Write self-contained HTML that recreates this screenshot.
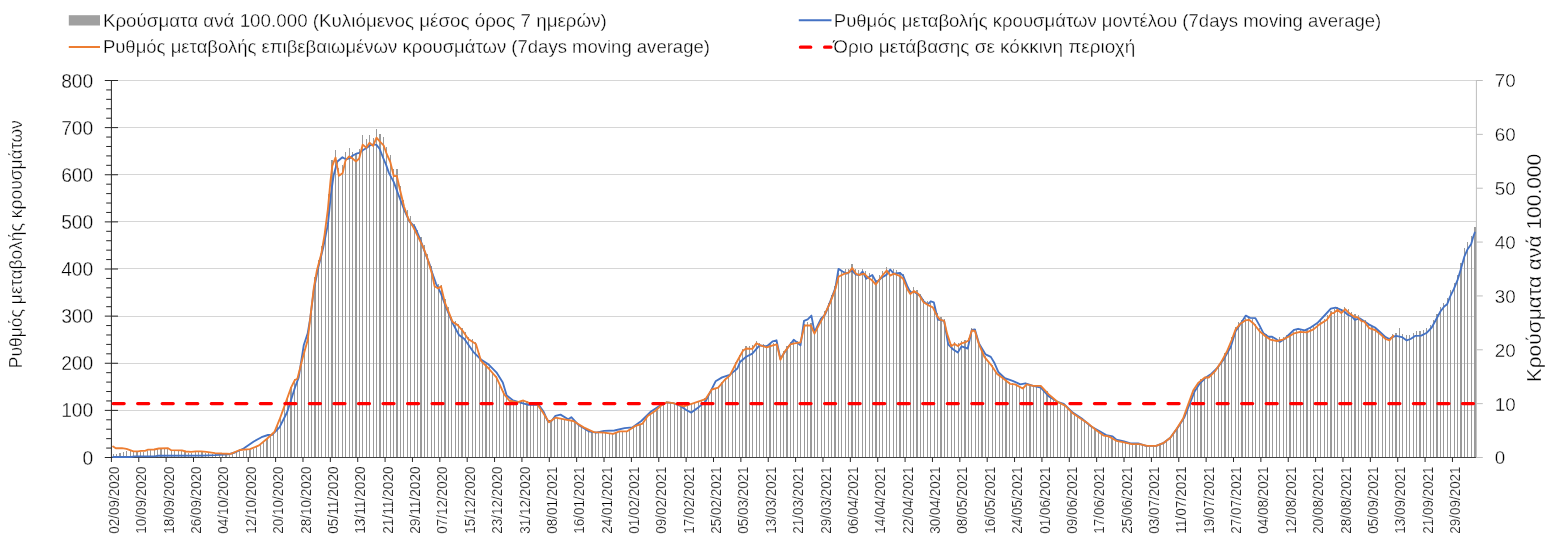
<!DOCTYPE html>
<html><head><meta charset="utf-8"><title>chart</title>
<style>html,body{margin:0;padding:0;background:#fff}svg{display:block;will-change:transform}text{font-family:"Liberation Sans",sans-serif;fill:#000;stroke:#fff;stroke-width:0.36px}.xl text{stroke-width:0.24px}</style></head><body>
<svg width="1562" height="546" viewBox="0 0 1562 546">
<rect width="1562" height="546" fill="#fff"/>
<g stroke="#d6d6d6" stroke-width="1">
<line x1="112" x2="1476.4" y1="80.5" y2="80.5"/>
<line x1="112" x2="1476.4" y1="127.5" y2="127.5"/>
<line x1="112" x2="1476.4" y1="174.5" y2="174.5"/>
<line x1="112" x2="1476.4" y1="221.5" y2="221.5"/>
<line x1="112" x2="1476.4" y1="268.5" y2="268.5"/>
<line x1="112" x2="1476.4" y1="316.5" y2="316.5"/>
<line x1="112" x2="1476.4" y1="363.5" y2="363.5"/>
<line x1="112" x2="1476.4" y1="410.5" y2="410.5"/>
</g>
<g fill="#9a9a9a" shape-rendering="crispEdges">
<rect x="113" y="454.3" width="1" height="3.2"/>
<rect x="116" y="453.55" width="1" height="3.95"/>
<rect x="119" y="452.8" width="2" height="4.7"/>
<rect x="123" y="452.05" width="1" height="5.45"/>
<rect x="126" y="451.3" width="1" height="6.2"/>
<rect x="130" y="450.55" width="1" height="6.95"/>
<rect x="133" y="452.14" width="1" height="5.36"/>
<rect x="136" y="452.11" width="2" height="5.39"/>
<rect x="140" y="451.74" width="1" height="5.76"/>
<rect x="143" y="451.6" width="1" height="5.9"/>
<rect x="147" y="450.7" width="1" height="6.8"/>
<rect x="150" y="450.34" width="1" height="7.16"/>
<rect x="154" y="450.27" width="1" height="7.23"/>
<rect x="157" y="449.48" width="1" height="8.02"/>
<rect x="160" y="449.18" width="2" height="8.32"/>
<rect x="164" y="449.06" width="1" height="8.44"/>
<rect x="167" y="448.92" width="1" height="8.58"/>
<rect x="171" y="450.96" width="1" height="6.54"/>
<rect x="174" y="451.04" width="1" height="6.46"/>
<rect x="178" y="451.12" width="1" height="6.38"/>
<rect x="181" y="451.15" width="1" height="6.35"/>
<rect x="184" y="452.1" width="2" height="5.4"/>
<rect x="188" y="452.5" width="1" height="5"/>
<rect x="191" y="452.66" width="1" height="4.84"/>
<rect x="195" y="452.21" width="1" height="5.29"/>
<rect x="198" y="452.13" width="1" height="5.37"/>
<rect x="201" y="452.22" width="2" height="5.28"/>
<rect x="205" y="452.6" width="1" height="4.9"/>
<rect x="208" y="453.09" width="1" height="4.41"/>
<rect x="212" y="453.58" width="1" height="3.92"/>
<rect x="215" y="454.01" width="1" height="3.49"/>
<rect x="219" y="454.22" width="1" height="3.28"/>
<rect x="222" y="454.4" width="1" height="3.1"/>
<rect x="225" y="454.53" width="2" height="2.97"/>
<rect x="229" y="454.65" width="1" height="2.85"/>
<rect x="232" y="453.8" width="1" height="3.7"/>
<rect x="236" y="452.28" width="1" height="5.22"/>
<rect x="239" y="450.78" width="1" height="6.72"/>
<rect x="243" y="450.51" width="1" height="6.99"/>
<rect x="246" y="450.22" width="1" height="7.28"/>
<rect x="249" y="449.96" width="2" height="7.54"/>
<rect x="253" y="448.5" width="1" height="9"/>
<rect x="256" y="446.97" width="1" height="10.53"/>
<rect x="260" y="444.98" width="1" height="12.52"/>
<rect x="263" y="442.1" width="1" height="15.4"/>
<rect x="266" y="439.1" width="2" height="18.4"/>
<rect x="270" y="435.9" width="1" height="21.6"/>
<rect x="273" y="432.63" width="1" height="24.87"/>
<rect x="277" y="424.92" width="1" height="32.58"/>
<rect x="280" y="416.1" width="1" height="41.4"/>
<rect x="284" y="406.09" width="1" height="51.41"/>
<rect x="287" y="396.63" width="1" height="60.87"/>
<rect x="290" y="386.64" width="2" height="70.86"/>
<rect x="294" y="379.48" width="1" height="78.02"/>
<rect x="297" y="375.74" width="1" height="81.76"/>
<rect x="301" y="361.64" width="1" height="95.86"/>
<rect x="304" y="348.93" width="1" height="108.57"/>
<rect x="308" y="333.72" width="1" height="123.78"/>
<rect x="311" y="303.61" width="1" height="153.89"/>
<rect x="314" y="277.11" width="2" height="180.39"/>
<rect x="318" y="259.55" width="1" height="197.95"/>
<rect x="321" y="246.03" width="1" height="211.47"/>
<rect x="325" y="223.64" width="1" height="233.86"/>
<rect x="328" y="194.12" width="1" height="263.38"/>
<rect x="331" y="160.03" width="2" height="297.47"/>
<rect x="335" y="149.66" width="1" height="307.84"/>
<rect x="338" y="167.58" width="1" height="289.92"/>
<rect x="342" y="164.86" width="1" height="292.64"/>
<rect x="345" y="152.37" width="1" height="305.13"/>
<rect x="349" y="148.01" width="1" height="309.49"/>
<rect x="352" y="151.75" width="1" height="305.75"/>
<rect x="355" y="152.96" width="2" height="304.54"/>
<rect x="359" y="149.25" width="1" height="308.25"/>
<rect x="362" y="135.11" width="1" height="322.39"/>
<rect x="366" y="138.68" width="1" height="318.82"/>
<rect x="369" y="134.97" width="1" height="322.53"/>
<rect x="373" y="137.81" width="1" height="319.69"/>
<rect x="376" y="128.61" width="1" height="328.89"/>
<rect x="379" y="134.38" width="2" height="323.12"/>
<rect x="383" y="136.8" width="1" height="320.7"/>
<rect x="386" y="146.89" width="1" height="310.61"/>
<rect x="390" y="154.85" width="1" height="302.65"/>
<rect x="393" y="169.07" width="1" height="288.43"/>
<rect x="396" y="169.09" width="2" height="288.41"/>
<rect x="400" y="185.56" width="1" height="271.94"/>
<rect x="403" y="199.93" width="1" height="257.57"/>
<rect x="407" y="209.84" width="1" height="247.66"/>
<rect x="410" y="216.22" width="1" height="241.28"/>
<rect x="414" y="223.96" width="1" height="233.54"/>
<rect x="417" y="230.4" width="1" height="227.1"/>
<rect x="420" y="237.28" width="2" height="220.22"/>
<rect x="424" y="244.53" width="1" height="212.97"/>
<rect x="427" y="254.46" width="1" height="203.04"/>
<rect x="431" y="266.38" width="1" height="191.12"/>
<rect x="434" y="282.52" width="1" height="174.98"/>
<rect x="438" y="284.49" width="1" height="173.01"/>
<rect x="441" y="284.64" width="1" height="172.86"/>
<rect x="444" y="298.61" width="2" height="158.89"/>
<rect x="448" y="307.34" width="1" height="150.16"/>
<rect x="451" y="317.05" width="1" height="140.45"/>
<rect x="455" y="320.82" width="1" height="136.68"/>
<rect x="458" y="323.53" width="1" height="133.97"/>
<rect x="461" y="327.59" width="2" height="129.91"/>
<rect x="465" y="332.31" width="1" height="125.19"/>
<rect x="468" y="336.84" width="1" height="120.66"/>
<rect x="472" y="339.48" width="1" height="118.02"/>
<rect x="475" y="342.04" width="1" height="115.46"/>
<rect x="479" y="352.77" width="1" height="104.73"/>
<rect x="482" y="360.63" width="1" height="96.87"/>
<rect x="485" y="364.01" width="2" height="93.49"/>
<rect x="489" y="367.38" width="1" height="90.12"/>
<rect x="492" y="371.64" width="1" height="85.86"/>
<rect x="496" y="375.83" width="1" height="81.67"/>
<rect x="499" y="383.28" width="1" height="74.22"/>
<rect x="503" y="390.9" width="1" height="66.6"/>
<rect x="506" y="396.56" width="1" height="60.94"/>
<rect x="509" y="399.79" width="2" height="57.71"/>
<rect x="513" y="400.67" width="1" height="56.83"/>
<rect x="516" y="401.45" width="1" height="56.05"/>
<rect x="520" y="400.55" width="1" height="56.95"/>
<rect x="523" y="399.98" width="1" height="57.52"/>
<rect x="526" y="401.41" width="2" height="56.09"/>
<rect x="530" y="402.78" width="1" height="54.72"/>
<rect x="533" y="403.14" width="1" height="54.36"/>
<rect x="537" y="403.98" width="1" height="53.52"/>
<rect x="540" y="409.07" width="1" height="48.43"/>
<rect x="544" y="414.4" width="1" height="43.1"/>
<rect x="547" y="420.02" width="1" height="37.48"/>
<rect x="550" y="420.81" width="2" height="36.69"/>
<rect x="554" y="418.37" width="1" height="39.13"/>
<rect x="557" y="418.15" width="1" height="39.35"/>
<rect x="561" y="418.79" width="1" height="38.71"/>
<rect x="564" y="419.46" width="1" height="38.04"/>
<rect x="568" y="420" width="1" height="37.5"/>
<rect x="571" y="420.72" width="1" height="36.78"/>
<rect x="574" y="421.86" width="2" height="35.64"/>
<rect x="578" y="424.12" width="1" height="33.38"/>
<rect x="581" y="426.43" width="1" height="31.07"/>
<rect x="585" y="428.32" width="1" height="29.18"/>
<rect x="588" y="429.92" width="1" height="27.58"/>
<rect x="591" y="431.54" width="2" height="25.96"/>
<rect x="595" y="432.5" width="1" height="25"/>
<rect x="598" y="432.52" width="1" height="24.98"/>
<rect x="602" y="432.67" width="1" height="24.83"/>
<rect x="605" y="433.09" width="1" height="24.41"/>
<rect x="609" y="433.55" width="1" height="23.95"/>
<rect x="612" y="434.1" width="1" height="23.4"/>
<rect x="615" y="433" width="2" height="24.5"/>
<rect x="619" y="431.58" width="1" height="25.92"/>
<rect x="622" y="431.56" width="1" height="25.94"/>
<rect x="626" y="431.45" width="1" height="26.05"/>
<rect x="629" y="429.89" width="1" height="27.61"/>
<rect x="633" y="427.6" width="1" height="29.9"/>
<rect x="636" y="425.58" width="1" height="31.92"/>
<rect x="639" y="424.5" width="2" height="33"/>
<rect x="643" y="422.48" width="1" height="35.02"/>
<rect x="646" y="417.05" width="1" height="40.45"/>
<rect x="650" y="414.1" width="1" height="43.4"/>
<rect x="653" y="411.59" width="1" height="45.91"/>
<rect x="656" y="408.64" width="2" height="48.86"/>
<rect x="660" y="405.43" width="1" height="52.07"/>
<rect x="663" y="403.14" width="1" height="54.36"/>
<rect x="667" y="401.8" width="1" height="55.7"/>
<rect x="670" y="402.2" width="1" height="55.3"/>
<rect x="674" y="402.9" width="1" height="54.6"/>
<rect x="677" y="403.77" width="1" height="53.73"/>
<rect x="680" y="405" width="2" height="52.5"/>
<rect x="684" y="405.48" width="1" height="52.02"/>
<rect x="687" y="404.52" width="1" height="52.98"/>
<rect x="691" y="403.43" width="1" height="54.07"/>
<rect x="694" y="402.02" width="1" height="55.48"/>
<rect x="698" y="400.76" width="1" height="56.74"/>
<rect x="701" y="399.63" width="1" height="57.87"/>
<rect x="704" y="398.46" width="2" height="59.04"/>
<rect x="708" y="393.65" width="1" height="63.85"/>
<rect x="711" y="388.34" width="1" height="69.16"/>
<rect x="715" y="387.62" width="1" height="69.88"/>
<rect x="718" y="386.05" width="1" height="71.45"/>
<rect x="721" y="381.91" width="2" height="75.59"/>
<rect x="725" y="378.19" width="1" height="79.31"/>
<rect x="728" y="375.16" width="1" height="82.34"/>
<rect x="732" y="369.11" width="1" height="88.39"/>
<rect x="735" y="362.36" width="1" height="95.14"/>
<rect x="739" y="355.46" width="1" height="102.04"/>
<rect x="742" y="348.86" width="1" height="108.64"/>
<rect x="745" y="346.41" width="2" height="111.09"/>
<rect x="749" y="346.07" width="1" height="111.43"/>
<rect x="752" y="345.45" width="1" height="112.05"/>
<rect x="756" y="340.64" width="1" height="116.86"/>
<rect x="759" y="342.73" width="1" height="114.77"/>
<rect x="763" y="344.15" width="1" height="113.35"/>
<rect x="766" y="345.28" width="1" height="112.22"/>
<rect x="769" y="344.27" width="2" height="113.23"/>
<rect x="773" y="343.16" width="1" height="114.34"/>
<rect x="776" y="341.92" width="1" height="115.58"/>
<rect x="780" y="356.62" width="1" height="100.88"/>
<rect x="783" y="351.09" width="1" height="106.41"/>
<rect x="786" y="346.44" width="2" height="111.06"/>
<rect x="790" y="341.82" width="1" height="115.68"/>
<rect x="793" y="340.74" width="1" height="116.76"/>
<rect x="797" y="340.76" width="1" height="116.74"/>
<rect x="800" y="338.67" width="1" height="118.83"/>
<rect x="804" y="323.96" width="1" height="133.54"/>
<rect x="807" y="322.24" width="1" height="135.26"/>
<rect x="810" y="322.75" width="2" height="134.75"/>
<rect x="814" y="330.84" width="1" height="126.66"/>
<rect x="817" y="324.58" width="1" height="132.92"/>
<rect x="821" y="317.35" width="1" height="140.15"/>
<rect x="824" y="311.23" width="1" height="146.27"/>
<rect x="828" y="303.12" width="1" height="154.38"/>
<rect x="831" y="294.74" width="1" height="162.76"/>
<rect x="834" y="286.29" width="2" height="171.21"/>
<rect x="838" y="272.93" width="1" height="184.57"/>
<rect x="841" y="269.9" width="1" height="187.6"/>
<rect x="845" y="268.6" width="1" height="188.9"/>
<rect x="848" y="268.56" width="1" height="188.94"/>
<rect x="851" y="264.17" width="2" height="193.33"/>
<rect x="855" y="268.95" width="1" height="188.55"/>
<rect x="858" y="269.89" width="1" height="187.61"/>
<rect x="862" y="269.14" width="1" height="188.36"/>
<rect x="865" y="271.29" width="1" height="186.21"/>
<rect x="869" y="273.48" width="1" height="184.02"/>
<rect x="872" y="276.1" width="1" height="181.4"/>
<rect x="875" y="279.8" width="2" height="177.7"/>
<rect x="879" y="275.41" width="1" height="182.09"/>
<rect x="882" y="270.55" width="1" height="186.95"/>
<rect x="886" y="266.97" width="1" height="190.53"/>
<rect x="889" y="271.09" width="1" height="186.41"/>
<rect x="893" y="268.79" width="1" height="188.71"/>
<rect x="896" y="269.95" width="1" height="187.55"/>
<rect x="899" y="271.85" width="2" height="185.65"/>
<rect x="903" y="274.43" width="1" height="183.07"/>
<rect x="906" y="283.99" width="1" height="173.51"/>
<rect x="910" y="289.57" width="1" height="167.93"/>
<rect x="913" y="286.8" width="1" height="170.7"/>
<rect x="916" y="289.58" width="2" height="167.92"/>
<rect x="920" y="293.79" width="1" height="163.71"/>
<rect x="923" y="299.09" width="1" height="158.41"/>
<rect x="927" y="301.29" width="1" height="156.21"/>
<rect x="930" y="302.76" width="1" height="154.74"/>
<rect x="934" y="306.99" width="1" height="150.51"/>
<rect x="937" y="313.37" width="1" height="144.13"/>
<rect x="940" y="317.25" width="2" height="140.25"/>
<rect x="944" y="318.7" width="1" height="138.8"/>
<rect x="947" y="333.54" width="1" height="123.96"/>
<rect x="951" y="344.01" width="1" height="113.49"/>
<rect x="954" y="341.6" width="1" height="115.9"/>
<rect x="958" y="343.06" width="1" height="114.44"/>
<rect x="961" y="340.94" width="1" height="116.56"/>
<rect x="964" y="339.54" width="2" height="117.96"/>
<rect x="968" y="337.99" width="1" height="119.51"/>
<rect x="971" y="327.67" width="1" height="129.83"/>
<rect x="975" y="329.24" width="1" height="128.26"/>
<rect x="978" y="341.22" width="1" height="116.28"/>
<rect x="981" y="349.35" width="2" height="108.15"/>
<rect x="985" y="356.47" width="1" height="101.03"/>
<rect x="988" y="360.84" width="1" height="96.66"/>
<rect x="992" y="364.92" width="1" height="92.58"/>
<rect x="995" y="370.59" width="1" height="86.91"/>
<rect x="999" y="374.07" width="1" height="83.43"/>
<rect x="1002" y="376.44" width="1" height="81.06"/>
<rect x="1005" y="379.28" width="2" height="78.22"/>
<rect x="1009" y="382.22" width="1" height="75.28"/>
<rect x="1012" y="382.92" width="1" height="74.58"/>
<rect x="1016" y="383.82" width="1" height="73.68"/>
<rect x="1019" y="385.56" width="1" height="71.94"/>
<rect x="1023" y="387.31" width="1" height="70.19"/>
<rect x="1026" y="383.35" width="1" height="74.15"/>
<rect x="1029" y="384.14" width="2" height="73.36"/>
<rect x="1033" y="384.88" width="1" height="72.62"/>
<rect x="1036" y="384.6" width="1" height="72.9"/>
<rect x="1040" y="384.75" width="1" height="72.75"/>
<rect x="1043" y="387.83" width="1" height="69.67"/>
<rect x="1046" y="391.48" width="2" height="66.02"/>
<rect x="1050" y="394.76" width="1" height="62.74"/>
<rect x="1053" y="398.04" width="1" height="59.46"/>
<rect x="1057" y="401.01" width="1" height="56.49"/>
<rect x="1060" y="402.83" width="1" height="54.67"/>
<rect x="1064" y="404.56" width="1" height="52.94"/>
<rect x="1067" y="407.53" width="1" height="49.97"/>
<rect x="1070" y="411.14" width="2" height="46.36"/>
<rect x="1074" y="414.09" width="1" height="43.41"/>
<rect x="1077" y="416.49" width="1" height="41.01"/>
<rect x="1081" y="418.72" width="1" height="38.78"/>
<rect x="1084" y="421.13" width="1" height="36.37"/>
<rect x="1088" y="423.42" width="1" height="34.08"/>
<rect x="1091" y="426.33" width="1" height="31.17"/>
<rect x="1094" y="429.42" width="2" height="28.08"/>
<rect x="1098" y="432.02" width="1" height="25.48"/>
<rect x="1101" y="434.51" width="1" height="22.99"/>
<rect x="1105" y="436.15" width="1" height="21.35"/>
<rect x="1108" y="436.82" width="1" height="20.68"/>
<rect x="1111" y="438.8" width="2" height="18.7"/>
<rect x="1115" y="440.76" width="1" height="16.74"/>
<rect x="1118" y="441.86" width="1" height="15.64"/>
<rect x="1122" y="442.52" width="1" height="14.98"/>
<rect x="1125" y="443.29" width="1" height="14.21"/>
<rect x="1129" y="444.04" width="1" height="13.46"/>
<rect x="1132" y="444.67" width="1" height="12.83"/>
<rect x="1135" y="444.66" width="2" height="12.84"/>
<rect x="1139" y="444.74" width="1" height="12.76"/>
<rect x="1142" y="445.48" width="1" height="12.02"/>
<rect x="1146" y="446.31" width="1" height="11.19"/>
<rect x="1149" y="446.59" width="1" height="10.91"/>
<rect x="1153" y="446.52" width="1" height="10.98"/>
<rect x="1156" y="446.37" width="1" height="11.13"/>
<rect x="1159" y="445" width="2" height="12.5"/>
<rect x="1163" y="443.49" width="1" height="14.01"/>
<rect x="1166" y="440.95" width="1" height="16.55"/>
<rect x="1170" y="438.18" width="1" height="19.32"/>
<rect x="1173" y="433.18" width="1" height="24.32"/>
<rect x="1176" y="428.17" width="2" height="29.33"/>
<rect x="1180" y="422.73" width="1" height="34.77"/>
<rect x="1183" y="416.07" width="1" height="41.43"/>
<rect x="1187" y="406.3" width="1" height="51.2"/>
<rect x="1190" y="396.65" width="1" height="60.85"/>
<rect x="1194" y="388.13" width="1" height="69.37"/>
<rect x="1197" y="382.86" width="1" height="74.64"/>
<rect x="1200" y="379.13" width="2" height="78.37"/>
<rect x="1204" y="376.72" width="1" height="80.78"/>
<rect x="1207" y="376.07" width="1" height="81.43"/>
<rect x="1211" y="373.49" width="1" height="84.01"/>
<rect x="1214" y="370.26" width="1" height="87.24"/>
<rect x="1218" y="365.13" width="1" height="92.37"/>
<rect x="1221" y="359.51" width="1" height="97.99"/>
<rect x="1224" y="353.04" width="2" height="104.46"/>
<rect x="1228" y="346.07" width="1" height="111.43"/>
<rect x="1231" y="336.75" width="1" height="120.75"/>
<rect x="1235" y="327.34" width="1" height="130.16"/>
<rect x="1238" y="322.35" width="1" height="135.15"/>
<rect x="1241" y="319.94" width="2" height="137.56"/>
<rect x="1245" y="317.5" width="1" height="140"/>
<rect x="1248" y="317.19" width="1" height="140.31"/>
<rect x="1252" y="319.15" width="1" height="138.35"/>
<rect x="1255" y="323.55" width="1" height="133.95"/>
<rect x="1259" y="328.3" width="1" height="129.2"/>
<rect x="1262" y="331.19" width="1" height="126.31"/>
<rect x="1265" y="333.6" width="2" height="123.9"/>
<rect x="1269" y="336.2" width="1" height="121.3"/>
<rect x="1272" y="337.86" width="1" height="119.64"/>
<rect x="1276" y="338.7" width="1" height="118.8"/>
<rect x="1279" y="337.42" width="1" height="120.08"/>
<rect x="1283" y="336.78" width="1" height="120.72"/>
<rect x="1286" y="334.87" width="1" height="122.63"/>
<rect x="1289" y="333.62" width="2" height="123.88"/>
<rect x="1293" y="331.53" width="1" height="125.97"/>
<rect x="1296" y="329.74" width="1" height="127.76"/>
<rect x="1300" y="329.22" width="1" height="128.28"/>
<rect x="1303" y="329.78" width="1" height="127.72"/>
<rect x="1306" y="328.95" width="2" height="128.55"/>
<rect x="1310" y="327.75" width="1" height="129.75"/>
<rect x="1313" y="325.9" width="1" height="131.6"/>
<rect x="1317" y="323.68" width="1" height="133.82"/>
<rect x="1320" y="320.24" width="1" height="137.26"/>
<rect x="1324" y="318.9" width="1" height="138.6"/>
<rect x="1327" y="315.28" width="1" height="142.22"/>
<rect x="1330" y="310.82" width="2" height="146.68"/>
<rect x="1334" y="309.3" width="1" height="148.2"/>
<rect x="1337" y="306.62" width="1" height="150.88"/>
<rect x="1341" y="309.25" width="1" height="148.25"/>
<rect x="1344" y="306.55" width="1" height="150.95"/>
<rect x="1348" y="309.26" width="1" height="148.24"/>
<rect x="1351" y="311.58" width="1" height="145.92"/>
<rect x="1354" y="313.81" width="2" height="143.69"/>
<rect x="1358" y="315.24" width="1" height="142.26"/>
<rect x="1361" y="318.53" width="1" height="138.97"/>
<rect x="1365" y="320.23" width="1" height="137.27"/>
<rect x="1368" y="324.76" width="1" height="132.74"/>
<rect x="1371" y="326.38" width="2" height="131.12"/>
<rect x="1375" y="327.76" width="1" height="129.74"/>
<rect x="1378" y="330.1" width="1" height="127.4"/>
<rect x="1382" y="333.55" width="1" height="123.95"/>
<rect x="1385" y="336.5" width="1" height="121"/>
<rect x="1389" y="338.1" width="1" height="119.4"/>
<rect x="1392" y="334.17" width="1" height="123.33"/>
<rect x="1395" y="332.51" width="2" height="124.99"/>
<rect x="1399" y="328.48" width="1" height="129.02"/>
<rect x="1402" y="334.03" width="1" height="123.47"/>
<rect x="1406" y="335.4" width="1" height="122.1"/>
<rect x="1409" y="335.13" width="1" height="122.37"/>
<rect x="1413" y="333.24" width="1" height="124.26"/>
<rect x="1416" y="331.39" width="1" height="126.11"/>
<rect x="1419" y="331.15" width="2" height="126.35"/>
<rect x="1423" y="330.02" width="1" height="127.48"/>
<rect x="1426" y="327.82" width="1" height="129.68"/>
<rect x="1430" y="324.71" width="1" height="132.79"/>
<rect x="1433" y="320.27" width="1" height="137.23"/>
<rect x="1436" y="314.07" width="2" height="143.43"/>
<rect x="1440" y="306.55" width="1" height="150.95"/>
<rect x="1443" y="302.86" width="1" height="154.64"/>
<rect x="1447" y="297.59" width="1" height="159.91"/>
<rect x="1450" y="290.01" width="1" height="167.49"/>
<rect x="1454" y="283.34" width="1" height="174.16"/>
<rect x="1457" y="274.58" width="1" height="182.92"/>
<rect x="1460" y="262.78" width="2" height="194.72"/>
<rect x="1464" y="248.41" width="1" height="209.09"/>
<rect x="1467" y="242.49" width="1" height="215.01"/>
<rect x="1471" y="236.29" width="1" height="221.21"/>
<rect x="1474" y="226.53" width="2" height="230.97"/>
</g>
<line x1="111" x2="1476.4" y1="457.5" y2="457.5" stroke="#404040" stroke-width="1"/>
<g stroke="#262626" stroke-width="1">
<line x1="111.4" x2="111.4" y1="457.5" y2="462"/>
<line x1="138.77" x2="138.77" y1="457.5" y2="462"/>
<line x1="166.14" x2="166.14" y1="457.5" y2="462"/>
<line x1="193.51" x2="193.51" y1="457.5" y2="462"/>
<line x1="220.87" x2="220.87" y1="457.5" y2="462"/>
<line x1="248.24" x2="248.24" y1="457.5" y2="462"/>
<line x1="275.61" x2="275.61" y1="457.5" y2="462"/>
<line x1="302.98" x2="302.98" y1="457.5" y2="462"/>
<line x1="330.35" x2="330.35" y1="457.5" y2="462"/>
<line x1="357.72" x2="357.72" y1="457.5" y2="462"/>
<line x1="385.08" x2="385.08" y1="457.5" y2="462"/>
<line x1="412.45" x2="412.45" y1="457.5" y2="462"/>
<line x1="439.82" x2="439.82" y1="457.5" y2="462"/>
<line x1="467.19" x2="467.19" y1="457.5" y2="462"/>
<line x1="494.56" x2="494.56" y1="457.5" y2="462"/>
<line x1="521.93" x2="521.93" y1="457.5" y2="462"/>
<line x1="549.29" x2="549.29" y1="457.5" y2="462"/>
<line x1="576.66" x2="576.66" y1="457.5" y2="462"/>
<line x1="604.03" x2="604.03" y1="457.5" y2="462"/>
<line x1="631.4" x2="631.4" y1="457.5" y2="462"/>
<line x1="658.77" x2="658.77" y1="457.5" y2="462"/>
<line x1="686.14" x2="686.14" y1="457.5" y2="462"/>
<line x1="713.51" x2="713.51" y1="457.5" y2="462"/>
<line x1="740.87" x2="740.87" y1="457.5" y2="462"/>
<line x1="768.24" x2="768.24" y1="457.5" y2="462"/>
<line x1="795.61" x2="795.61" y1="457.5" y2="462"/>
<line x1="822.98" x2="822.98" y1="457.5" y2="462"/>
<line x1="850.35" x2="850.35" y1="457.5" y2="462"/>
<line x1="877.72" x2="877.72" y1="457.5" y2="462"/>
<line x1="905.08" x2="905.08" y1="457.5" y2="462"/>
<line x1="932.45" x2="932.45" y1="457.5" y2="462"/>
<line x1="959.82" x2="959.82" y1="457.5" y2="462"/>
<line x1="987.19" x2="987.19" y1="457.5" y2="462"/>
<line x1="1014.56" x2="1014.56" y1="457.5" y2="462"/>
<line x1="1041.93" x2="1041.93" y1="457.5" y2="462"/>
<line x1="1069.29" x2="1069.29" y1="457.5" y2="462"/>
<line x1="1096.66" x2="1096.66" y1="457.5" y2="462"/>
<line x1="1124.03" x2="1124.03" y1="457.5" y2="462"/>
<line x1="1151.4" x2="1151.4" y1="457.5" y2="462"/>
<line x1="1178.77" x2="1178.77" y1="457.5" y2="462"/>
<line x1="1206.14" x2="1206.14" y1="457.5" y2="462"/>
<line x1="1233.51" x2="1233.51" y1="457.5" y2="462"/>
<line x1="1260.87" x2="1260.87" y1="457.5" y2="462"/>
<line x1="1288.24" x2="1288.24" y1="457.5" y2="462"/>
<line x1="1315.61" x2="1315.61" y1="457.5" y2="462"/>
<line x1="1342.98" x2="1342.98" y1="457.5" y2="462"/>
<line x1="1370.35" x2="1370.35" y1="457.5" y2="462"/>
<line x1="1397.72" x2="1397.72" y1="457.5" y2="462"/>
<line x1="1425.08" x2="1425.08" y1="457.5" y2="462"/>
<line x1="1452.45" x2="1452.45" y1="457.5" y2="462"/>
</g>
<g stroke="#262626" stroke-width="1">
<line x1="111.4" x2="111.4" y1="80" y2="458"/>
<line x1="104.8" x2="118" y1="457.5" y2="457.5"/>
<line x1="106.2" x2="111.4" y1="448.07" y2="448.07"/>
<line x1="106.2" x2="111.4" y1="438.65" y2="438.65"/>
<line x1="106.2" x2="111.4" y1="429.23" y2="429.23"/>
<line x1="106.2" x2="111.4" y1="419.8" y2="419.8"/>
<line x1="104.8" x2="118" y1="410.38" y2="410.38"/>
<line x1="106.2" x2="111.4" y1="400.95" y2="400.95"/>
<line x1="106.2" x2="111.4" y1="391.52" y2="391.52"/>
<line x1="106.2" x2="111.4" y1="382.1" y2="382.1"/>
<line x1="106.2" x2="111.4" y1="372.68" y2="372.68"/>
<line x1="104.8" x2="118" y1="363.25" y2="363.25"/>
<line x1="106.2" x2="111.4" y1="353.82" y2="353.82"/>
<line x1="106.2" x2="111.4" y1="344.4" y2="344.4"/>
<line x1="106.2" x2="111.4" y1="334.98" y2="334.98"/>
<line x1="106.2" x2="111.4" y1="325.55" y2="325.55"/>
<line x1="104.8" x2="118" y1="316.12" y2="316.12"/>
<line x1="106.2" x2="111.4" y1="306.7" y2="306.7"/>
<line x1="106.2" x2="111.4" y1="297.27" y2="297.27"/>
<line x1="106.2" x2="111.4" y1="287.85" y2="287.85"/>
<line x1="106.2" x2="111.4" y1="278.43" y2="278.43"/>
<line x1="104.8" x2="118" y1="269" y2="269"/>
<line x1="106.2" x2="111.4" y1="259.57" y2="259.57"/>
<line x1="106.2" x2="111.4" y1="250.15" y2="250.15"/>
<line x1="106.2" x2="111.4" y1="240.72" y2="240.72"/>
<line x1="106.2" x2="111.4" y1="231.3" y2="231.3"/>
<line x1="104.8" x2="118" y1="221.88" y2="221.88"/>
<line x1="106.2" x2="111.4" y1="212.45" y2="212.45"/>
<line x1="106.2" x2="111.4" y1="203.03" y2="203.03"/>
<line x1="106.2" x2="111.4" y1="193.6" y2="193.6"/>
<line x1="106.2" x2="111.4" y1="184.18" y2="184.18"/>
<line x1="104.8" x2="118" y1="174.75" y2="174.75"/>
<line x1="106.2" x2="111.4" y1="165.32" y2="165.32"/>
<line x1="106.2" x2="111.4" y1="155.9" y2="155.9"/>
<line x1="106.2" x2="111.4" y1="146.48" y2="146.48"/>
<line x1="106.2" x2="111.4" y1="137.05" y2="137.05"/>
<line x1="104.8" x2="118" y1="127.62" y2="127.62"/>
<line x1="106.2" x2="111.4" y1="118.2" y2="118.2"/>
<line x1="106.2" x2="111.4" y1="108.77" y2="108.77"/>
<line x1="106.2" x2="111.4" y1="99.35" y2="99.35"/>
<line x1="106.2" x2="111.4" y1="89.93" y2="89.93"/>
<line x1="104.8" x2="118" y1="80.5" y2="80.5"/>
</g>
<g stroke="#bdbdbd" stroke-width="1">
<line x1="1476.4" x2="1476.4" y1="80" y2="458"/>
<line x1="1476.4" x2="1482.8" y1="457.5" y2="457.5"/>
<line x1="1476.4" x2="1482.8" y1="403.64" y2="403.64"/>
<line x1="1476.4" x2="1482.8" y1="349.79" y2="349.79"/>
<line x1="1476.4" x2="1482.8" y1="295.93" y2="295.93"/>
<line x1="1476.4" x2="1482.8" y1="242.07" y2="242.07"/>
<line x1="1476.4" x2="1482.8" y1="188.21" y2="188.21"/>
<line x1="1476.4" x2="1482.8" y1="134.36" y2="134.36"/>
<line x1="1476.4" x2="1482.8" y1="80.5" y2="80.5"/>
</g>
<polyline points="113.1,457 131,457 135,456.3 155,456.3 158,455.7 202.5,455.6 215,455.2 228,454.4 235,452.5 243.6,448.5 253.8,441.5 261.5,437.2 268,435 271.8,435 279.5,427.4 287.2,412 294.9,387.7 298.7,377.4 303.8,345 307.7,333.3 310.3,317.9 313.8,290 318.2,267.9 323.3,247.4 327.9,224.4 331,193.6 333.6,175.6 337.4,161.5 342.4,157.2 346.1,159.5 349.7,158.2 352.8,155.5 356.3,153.7 359.2,152.9 362.7,150.2 366.9,147.8 370.1,145.3 373.3,144.4 376.5,144.9 379.7,149 383.2,158 386.2,165.1 388.9,172.9 393.8,182.1 399,196.2 404.1,209.5 409.5,221.5 414.9,227 418.2,234.6 421.8,243.6 425.5,254 429.5,264.1 432.3,273.1 435.9,283.3 441,293.6 446.2,307.7 452.6,323.1 459,335 464.4,339 473.3,351.8 481,359.5 488.7,364.6 496.4,372.3 502.8,382.6 506.7,395.4 513.1,400.5 522.1,403.1 528.5,404.9 538.7,404.9 543.8,412.1 547.7,421 551.5,421 555.4,415.9 560.5,414.6 568.2,419.2 571.3,417.2 578.5,424.9 588.7,431.3 596.4,432.6 604.1,430.8 614.4,430.5 624.6,428.2 632.3,427.4 641.3,421 650.3,412.1 657.9,406.9 666.9,402.3 673.3,403.1 679.7,405.6 686.2,410 691.3,412.6 699,406.9 705.4,401.8 709.2,394.1 715.6,381.3 722.1,377.4 729.7,374.9 737.4,368.5 740,362 746.2,356.7 752.3,353.6 759.5,345.4 766.7,346.4 772.8,341.3 776.5,340.3 780.4,358.7 787.2,348.5 793.7,339.8 800.5,345.4 804,320.8 807.7,319.3 811.4,315.6 814.5,332.1 821,318.7 825.1,314.6 830.3,301.3 835.4,287.9 838.5,268.9 842.6,271.5 846.7,273.6 851.8,270.5 855.9,274.6 859.4,275 862.5,271.5 866.2,278.7 872.3,275 876.4,282.4 881.5,277.7 886.7,274.6 890.2,269.5 893.8,273.6 900,273 903.1,275.6 907.2,285.9 910.3,292.1 914.4,292.1 920.5,296.2 923.6,301.3 927.7,304.4 930.8,301.3 933.8,302.3 937.9,319.7 944.1,320.8 948.2,344.4 953.3,349.5 957.8,352.6 961.5,346.4 967.7,348.5 971.8,330 974.9,329.5 979,343.5 985.6,354.4 990.8,356.9 994.6,363.3 998.5,372.3 1004.9,378.2 1012.6,380.8 1020.3,384.4 1025.4,383.3 1033.1,385.9 1040.8,387.7 1048.5,396.2 1057.4,401.8 1063.8,403.8 1072.8,412.6 1081.8,418.5 1090.8,426.2 1099.7,431.3 1106.2,435.1 1112.6,436.4 1116.4,439.7 1124.1,441.5 1130.5,443.3 1138.2,443.3 1145.9,445.9 1156.2,445.9 1163.8,442.8 1170.3,437.7 1177.9,427.4 1184.4,417.2 1189.5,404.4 1194.6,391.5 1199.7,383.5 1205.8,377.5 1211.5,373.7 1217.3,367.9 1223.1,360.2 1230.8,346.7 1235.6,331.3 1241.3,322.7 1245.8,315.6 1250,317.9 1255.4,318.1 1259.6,325.6 1263.5,333.3 1268.3,336.7 1272.1,336.7 1276,339 1279.8,341.9 1284.6,339 1289.4,334.2 1294.2,329.8 1298.1,328.8 1304.8,330.4 1310.6,327.5 1317.3,323.1 1325,315 1330.8,308.7 1335.6,307.7 1339.4,309.2 1343.3,310.8 1348.1,315 1351.9,316.5 1354.8,319.8 1359.6,318.3 1363.5,320.8 1369.2,324.6 1375,327.5 1380.8,332.7 1385.6,337.1 1389.4,339 1392.3,337.1 1396.2,335.8 1401.9,337.1 1406.7,340.4 1410.6,339 1415.4,335.8 1421.2,335.6 1426.9,332.7 1431.7,327.5 1436.5,318.8 1440.4,311.5 1444.2,306.5 1447.1,304.3 1450,296.8 1453.8,289.2 1457.7,279.6 1460.6,270 1464.4,256.5 1467.3,249.8 1471.2,244 1473.1,237.3 1474.8,232.5" fill="none" stroke="#4472c4" stroke-width="1.85" stroke-linejoin="round" stroke-linecap="round"/>
<polyline points="113.1,446.4 115.8,448.2 121.9,448.2 126.5,448.8 133.5,451.3 138.1,451.3 141.2,450.8 145,450.8 148.1,449.6 154.2,449.5 158.8,448.5 168.1,448.2 171.2,450.2 181.9,450.4 185.8,451.5 191.2,451.9 195.8,451.3 201.2,451.3 206.5,451.9 215,453.1 222,453.5 230.8,453.8 239.7,450 250,449.2 259,445.4 266.7,439 274.4,432 279.5,419.7 284.6,405.6 291,387.7 294.9,380 297.4,378.7 302.6,358.2 307.7,340 311.5,307.7 313.8,288 316.9,270.5 321.3,253.8 324.6,234.6 327.9,209 330.5,180.8 332.3,165.9 335.5,157.5 338.9,175.8 342.6,173.2 345.5,160.5 349.1,156.4 352.8,158.8 356.1,161.4 359.2,158.5 362.7,144.6 366.3,147.8 369.5,142.7 373.1,145.9 376.5,137.6 379.7,141.4 383.6,145.3 386.8,154.2 390.3,162 393.8,176.2 396.8,176 400.3,191 404.1,206.8 408.5,219.2 413.1,226.9 418.2,237.2 423.3,247.4 427.2,257.7 432.3,275 434.6,286.3 438.2,288.5 441,286.3 444.9,302.6 452.6,321.8 457.7,325.1 462.8,331 468.2,339 475.9,344.1 481,360.8 488.7,368.5 496.4,377.4 504.1,394.1 509.2,400.5 516.9,402.3 523.3,400.5 529.7,403.1 537.4,404.4 542.6,412.1 549,422.3 555.4,417.7 563.1,419.2 573.3,421 583.6,427.4 593.8,432.1 604.1,432.6 613.1,433.8 619.5,431.3 627.2,431.3 634.9,426.2 642.6,423.6 647.7,415.9 655.4,410.8 661.8,404.9 666.9,402.3 673.3,403.1 683.6,406.4 693.8,403.1 705.4,399.2 711.8,389.5 718.2,387.7 724.6,380 729.7,375.6 737.4,360.8 743.1,350.5 746.2,348.5 752.3,348.9 756.4,343.3 760.5,345.4 766.7,347.4 772.8,345.4 776.9,344.4 780.4,359.7 784.1,352.6 790.3,344.4 794.4,343.3 800.5,342.3 804.6,325.5 810.8,325.5 814.5,333.7 819,324.9 824.1,315.6 830.3,302.3 835.4,289 838.5,276.7 844.6,273.6 848.7,272.6 852.2,268.1 855.9,273.6 859,275 864.1,273.6 868.2,277.7 871.3,279.7 875.8,284.5 881.5,276.7 886.7,270.5 890.2,275.6 893.8,273.6 899,275.6 903.1,278.7 907.2,289 910.3,294.1 913.9,291 918.5,294.1 923.6,302.3 928.7,305.4 932.8,307.4 936.9,315.6 940,319.7 944.1,320.8 947.2,334.1 951.3,346.4 954.4,343.9 957.8,346 961.5,343.3 965.6,342.2 968.7,340.3 971.8,330.5 974.9,331 979,344.4 984.4,356.9 990.8,364.6 997.2,374.1 1003.6,378.7 1010,383.8 1015.1,384.4 1022.8,388.5 1026.7,384.4 1033.1,385.9 1040.8,385.9 1048.5,394.1 1057.4,401.8 1065.1,405.6 1072.8,413.3 1080.5,418.5 1088.2,423.6 1095.9,430 1103.6,435.6 1108.7,436.4 1116.4,440.8 1124.1,442.3 1131.8,444.1 1139.5,444.1 1147.2,445.9 1156.2,445.9 1163.8,442.8 1170.3,437.7 1176.7,428.7 1183.1,418.5 1188.2,404.4 1193.3,390.3 1198.5,382.6 1204.8,377.5 1208.7,377.5 1215.4,370.8 1221.2,362.1 1226.9,351.5 1231.7,340 1235.6,329.4 1240.4,323.7 1245.2,320.4 1249,319.8 1253.8,323.7 1259.6,331.3 1265.4,336.2 1270.2,339.6 1276.9,341 1282.7,339.6 1289.4,336.2 1294.2,333.3 1300,331.9 1306.7,332.3 1313.5,329.4 1319.2,324.6 1326.9,319.8 1331.7,313.1 1333.7,313.1 1337.5,309.8 1341.3,313.1 1345.2,309.2 1349,313.1 1353.8,316.5 1357.7,317.3 1361.5,321.2 1364.4,321.7 1369.2,328.1 1375,330 1380.8,334.6 1385.6,339 1389.4,340.4 1393.3,335.8" fill="none" stroke="#ed7d31" stroke-width="1.85" stroke-linejoin="round" stroke-linecap="round"/>
<line x1="113.15" x2="1475" y1="403.6" y2="403.6" stroke="#ff0000" stroke-width="3.3" stroke-linecap="round" stroke-dasharray="11 13.533"/>
<g font-size="19.3" text-anchor="end">
<text x="93.3" y="464.5">0</text>
<text x="93.3" y="417.38">100</text>
<text x="93.3" y="370.25">200</text>
<text x="93.3" y="323.12">300</text>
<text x="93.3" y="276">400</text>
<text x="93.3" y="228.88">500</text>
<text x="93.3" y="181.75">600</text>
<text x="93.3" y="134.62">700</text>
<text x="93.3" y="87.5">800</text>
</g>
<g font-size="18.8">
<text x="1494.7" y="464.4">0</text>
<text x="1494.7" y="410.54">10</text>
<text x="1494.7" y="356.69">20</text>
<text x="1494.7" y="302.83">30</text>
<text x="1494.7" y="248.97">40</text>
<text x="1494.7" y="195.11">50</text>
<text x="1494.7" y="141.26">60</text>
<text x="1494.7" y="87.4">70</text>
</g>
<g class="xl" font-size="14" text-anchor="end">
<text transform="translate(119,466.4) rotate(-90)" textLength="67.4" lengthAdjust="spacingAndGlyphs">02/09/2020</text>
<text transform="translate(146.37,466.4) rotate(-90)" textLength="67.4" lengthAdjust="spacingAndGlyphs">10/09/2020</text>
<text transform="translate(173.74,466.4) rotate(-90)" textLength="67.4" lengthAdjust="spacingAndGlyphs">18/09/2020</text>
<text transform="translate(201.11,466.4) rotate(-90)" textLength="67.4" lengthAdjust="spacingAndGlyphs">26/09/2020</text>
<text transform="translate(228.47,466.4) rotate(-90)" textLength="67.4" lengthAdjust="spacingAndGlyphs">04/10/2020</text>
<text transform="translate(255.84,466.4) rotate(-90)" textLength="67.4" lengthAdjust="spacingAndGlyphs">12/10/2020</text>
<text transform="translate(283.21,466.4) rotate(-90)" textLength="67.4" lengthAdjust="spacingAndGlyphs">20/10/2020</text>
<text transform="translate(310.58,466.4) rotate(-90)" textLength="67.4" lengthAdjust="spacingAndGlyphs">28/10/2020</text>
<text transform="translate(337.95,466.4) rotate(-90)" textLength="67.4" lengthAdjust="spacingAndGlyphs">05/11/2020</text>
<text transform="translate(365.32,466.4) rotate(-90)" textLength="67.4" lengthAdjust="spacingAndGlyphs">13/11/2020</text>
<text transform="translate(392.68,466.4) rotate(-90)" textLength="67.4" lengthAdjust="spacingAndGlyphs">21/11/2020</text>
<text transform="translate(420.05,466.4) rotate(-90)" textLength="67.4" lengthAdjust="spacingAndGlyphs">29/11/2020</text>
<text transform="translate(447.42,466.4) rotate(-90)" textLength="67.4" lengthAdjust="spacingAndGlyphs">07/12/2020</text>
<text transform="translate(474.79,466.4) rotate(-90)" textLength="67.4" lengthAdjust="spacingAndGlyphs">15/12/2020</text>
<text transform="translate(502.16,466.4) rotate(-90)" textLength="67.4" lengthAdjust="spacingAndGlyphs">23/12/2020</text>
<text transform="translate(529.53,466.4) rotate(-90)" textLength="67.4" lengthAdjust="spacingAndGlyphs">31/12/2020</text>
<text transform="translate(556.89,466.4) rotate(-90)" textLength="67.4" lengthAdjust="spacingAndGlyphs">08/01/2021</text>
<text transform="translate(584.26,466.4) rotate(-90)" textLength="67.4" lengthAdjust="spacingAndGlyphs">16/01/2021</text>
<text transform="translate(611.63,466.4) rotate(-90)" textLength="67.4" lengthAdjust="spacingAndGlyphs">24/01/2021</text>
<text transform="translate(639,466.4) rotate(-90)" textLength="67.4" lengthAdjust="spacingAndGlyphs">01/02/2021</text>
<text transform="translate(666.37,466.4) rotate(-90)" textLength="67.4" lengthAdjust="spacingAndGlyphs">09/02/2021</text>
<text transform="translate(693.74,466.4) rotate(-90)" textLength="67.4" lengthAdjust="spacingAndGlyphs">17/02/2021</text>
<text transform="translate(721.11,466.4) rotate(-90)" textLength="67.4" lengthAdjust="spacingAndGlyphs">25/02/2021</text>
<text transform="translate(748.47,466.4) rotate(-90)" textLength="67.4" lengthAdjust="spacingAndGlyphs">05/03/2021</text>
<text transform="translate(775.84,466.4) rotate(-90)" textLength="67.4" lengthAdjust="spacingAndGlyphs">13/03/2021</text>
<text transform="translate(803.21,466.4) rotate(-90)" textLength="67.4" lengthAdjust="spacingAndGlyphs">21/03/2021</text>
<text transform="translate(830.58,466.4) rotate(-90)" textLength="67.4" lengthAdjust="spacingAndGlyphs">29/03/2021</text>
<text transform="translate(857.95,466.4) rotate(-90)" textLength="67.4" lengthAdjust="spacingAndGlyphs">06/04/2021</text>
<text transform="translate(885.32,466.4) rotate(-90)" textLength="67.4" lengthAdjust="spacingAndGlyphs">14/04/2021</text>
<text transform="translate(912.68,466.4) rotate(-90)" textLength="67.4" lengthAdjust="spacingAndGlyphs">22/04/2021</text>
<text transform="translate(940.05,466.4) rotate(-90)" textLength="67.4" lengthAdjust="spacingAndGlyphs">30/04/2021</text>
<text transform="translate(967.42,466.4) rotate(-90)" textLength="67.4" lengthAdjust="spacingAndGlyphs">08/05/2021</text>
<text transform="translate(994.79,466.4) rotate(-90)" textLength="67.4" lengthAdjust="spacingAndGlyphs">16/05/2021</text>
<text transform="translate(1022.16,466.4) rotate(-90)" textLength="67.4" lengthAdjust="spacingAndGlyphs">24/05/2021</text>
<text transform="translate(1049.53,466.4) rotate(-90)" textLength="67.4" lengthAdjust="spacingAndGlyphs">01/06/2021</text>
<text transform="translate(1076.89,466.4) rotate(-90)" textLength="67.4" lengthAdjust="spacingAndGlyphs">09/06/2021</text>
<text transform="translate(1104.26,466.4) rotate(-90)" textLength="67.4" lengthAdjust="spacingAndGlyphs">17/06/2021</text>
<text transform="translate(1131.63,466.4) rotate(-90)" textLength="67.4" lengthAdjust="spacingAndGlyphs">25/06/2021</text>
<text transform="translate(1159,466.4) rotate(-90)" textLength="67.4" lengthAdjust="spacingAndGlyphs">03/07/2021</text>
<text transform="translate(1186.37,466.4) rotate(-90)" textLength="67.4" lengthAdjust="spacingAndGlyphs">11/07/2021</text>
<text transform="translate(1213.74,466.4) rotate(-90)" textLength="67.4" lengthAdjust="spacingAndGlyphs">19/07/2021</text>
<text transform="translate(1241.11,466.4) rotate(-90)" textLength="67.4" lengthAdjust="spacingAndGlyphs">27/07/2021</text>
<text transform="translate(1268.47,466.4) rotate(-90)" textLength="67.4" lengthAdjust="spacingAndGlyphs">04/08/2021</text>
<text transform="translate(1295.84,466.4) rotate(-90)" textLength="67.4" lengthAdjust="spacingAndGlyphs">12/08/2021</text>
<text transform="translate(1323.21,466.4) rotate(-90)" textLength="67.4" lengthAdjust="spacingAndGlyphs">20/08/2021</text>
<text transform="translate(1350.58,466.4) rotate(-90)" textLength="67.4" lengthAdjust="spacingAndGlyphs">28/08/2021</text>
<text transform="translate(1377.95,466.4) rotate(-90)" textLength="67.4" lengthAdjust="spacingAndGlyphs">05/09/2021</text>
<text transform="translate(1405.32,466.4) rotate(-90)" textLength="67.4" lengthAdjust="spacingAndGlyphs">13/09/2021</text>
<text transform="translate(1432.68,466.4) rotate(-90)" textLength="67.4" lengthAdjust="spacingAndGlyphs">21/09/2021</text>
<text transform="translate(1460.05,466.4) rotate(-90)" textLength="67.4" lengthAdjust="spacingAndGlyphs">29/09/2021</text>
</g>
<text transform="translate(21.5,368.2) rotate(-90)" font-size="17.8" textLength="248" lengthAdjust="spacingAndGlyphs">Ρυθμός μεταβολής κρουσμάτων</text>
<text transform="translate(1541,382.3) rotate(-90)" font-size="20.8" textLength="228.5" lengthAdjust="spacingAndGlyphs">Κρούσματα ανά 100.000</text>
<rect x="68.8" y="15.2" width="31.2" height="10.3" fill="#a0a0a0"/>
<line x1="68.8" x2="100" y1="47" y2="47" stroke="#ed7d31" stroke-width="2"/>
<line x1="798.8" x2="831.5" y1="20.3" y2="20.3" stroke="#4472c4" stroke-width="1.9"/>
<line x1="800.45" x2="830.9" y1="47.2" y2="47.2" stroke="#ff0000" stroke-width="3.3" stroke-linecap="round" stroke-dasharray="10.3 13.9"/>
<g font-size="18.67">
<text x="102.9" y="26.8" textLength="504" lengthAdjust="spacingAndGlyphs">Κρούσματα ανά 100.000 (Κυλιόμενος μέσος όρος 7 ημερών)</text>
<text x="102.9" y="52.8" textLength="607" lengthAdjust="spacingAndGlyphs">Ρυθμός μεταβολής επιβεβαιωμένων κρουσμάτων (7days moving average)</text>
<text x="833.8" y="26.8" textLength="547.5" lengthAdjust="spacingAndGlyphs">Ρυθμός μεταβολής κρουσμάτων μοντέλου (7days moving average)</text>
<text x="833.3" y="52.8" textLength="302" lengthAdjust="spacingAndGlyphs">Όριο μετάβασης σε κόκκινη περιοχή</text>
</g>
</svg></body></html>
